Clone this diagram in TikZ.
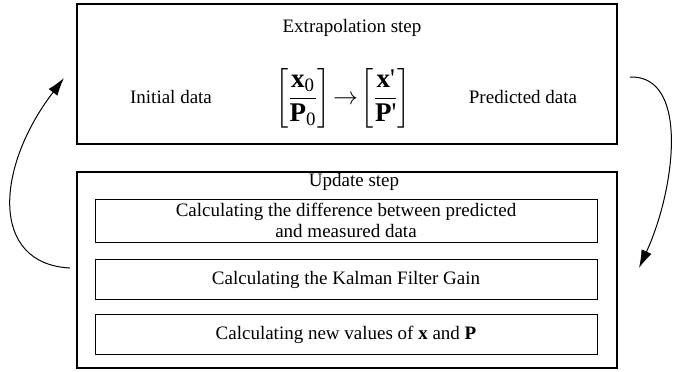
\documentclass[tikz,border=0pt]{standalone}
\usepackage{amsmath}
\usepackage{fontspec}
\setmainfont{Liberation Serif}
\usetikzlibrary{
  positioning,
  arrows.meta
}

\tikzset{
  stepbox/.style = {draw, line width=1.2pt, minimum width=540pt, inner sep=0pt},
  taskbox/.style = {draw, line width=0.8pt, minimum width=502pt, minimum height=40pt,
                    align=center, inner sep=0pt},
  loopline/.style = {-{Latex[length=18pt,width=11pt]}, line width=1pt}
}

\begin{document}
\begin{tikzpicture}[x=1pt, y=-1pt, node distance=16pt, font=\fontsize{19}{21}\selectfont]
    \useasboundingbox (0,0) rectangle (681,372);

    % extrapolation
    \node[stepbox, minimum height=140pt] (extra) at (347,74) {};
    \node (extratitle) at (352,28) {Extrapolation step};
    \node (init) at (171,97) {Initial data};
    \node (pred) at (523,97) {Predicted data};
    \node[font=\fontsize{27}{31}\selectfont] (eq) at (343,98)
      {$\left[\dfrac{\mathbf{x}_{\text{0}}}{\mathbf{P}_{\text{0}}}\right]\!\rightarrow\!
        \left[\dfrac{\text{\textbf{x}\textquotesingle}}{\text{\textbf{P}\textquotesingle}}\right]$};

    % update
    \node[stepbox, minimum height=196pt] (upd) at (347,270) {};
    \node (updtitle) at (354,182) {Update step};
    \node[taskbox, minimum height=43pt] (diff) at (346,220.5)
      {Calculating the difference between predicted\\ and measured data};
    \node[taskbox, below=17pt of diff] (gain) {Calculating the Kalman Filter Gain};
    \node[taskbox, below=14pt of gain] (newval)
      {Calculating new values of \textbf{x} and \textbf{P}};

    % loop
    \coordinate (l0) at (70,268);
    \coordinate (l1) at (64,78);
    \coordinate (r0) at (630,77);
    \coordinate (r1) at (639,268);
    \draw[loopline] (l0) .. controls (-10,264) and (-5,168) .. (l1);
    \draw[loopline] (r0) .. controls (690,75) and (675,190) .. (r1);
\end{tikzpicture}
\end{document}
